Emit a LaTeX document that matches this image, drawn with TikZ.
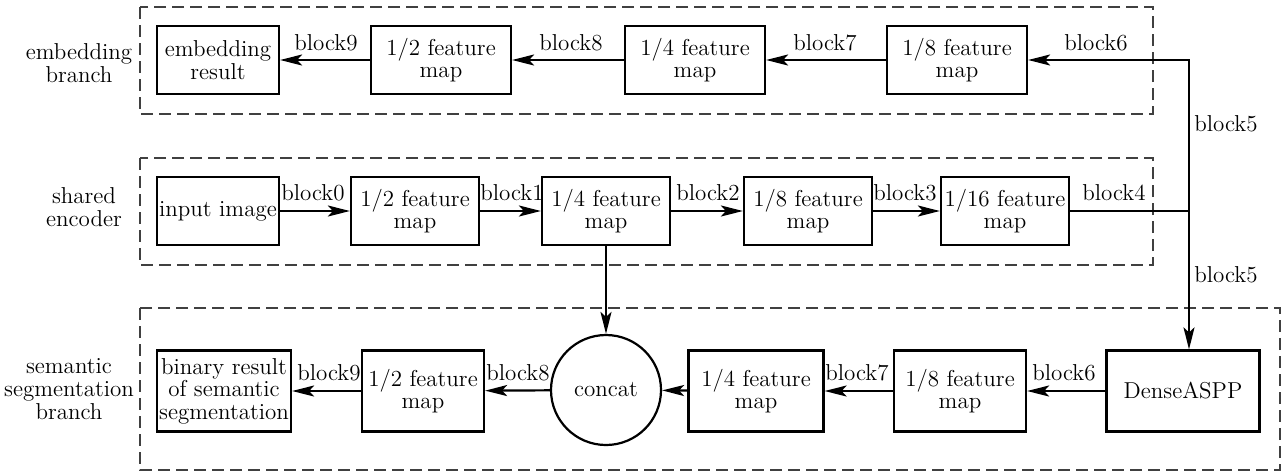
\documentclass[tikz,border=0pt]{standalone}
\usetikzlibrary{arrows.meta}
\begin{document}
\begin{tikzpicture}[x=0.5pt,y=-0.5pt,
  every node/.style={font=\fontsize{11.5pt}{11.3pt}\selectfont, align=center},
  box/.style={draw, line width=1.1pt, minimum height=34pt, inner sep=1pt},
  bbox/.style={draw, line width=1.1pt, minimum height=40.5pt, inner sep=1pt},
  grp/.style={draw=black!75, line width=0.75pt, dash pattern=on 6pt off 3pt},
  conn/.style={line width=1.1pt},
  arr/.style={line width=1.1pt, -{Stealth[length=11pt,width=5.5pt,inset=2.5pt]}},
  lab/.style={inner sep=1pt}]
\useasboundingbox (0,0) rectangle (1285,473);
% group frames
\draw[grp] (140,7) rectangle (1153,114);
\draw[grp] (140,158) rectangle (1153,265);
\draw[grp] (140,308) rectangle (1280,470);
% group labels
\node (gl1) at (79,63) {embedding\\branch};
\node (gl2) at (84,207) {shared\\encoder};
\node (gl3) at (69,389) {semantic\\segmentation\\branch};
% top row
\node[box, minimum width=61pt] (embres) at (218,60) {embedding\\result};
\node[box, minimum width=70pt] (t12) at (441,60) {1/2 feature\\map};
\node[box, minimum width=70pt] (t14) at (695,60) {1/4 feature\\map};
\node[box, minimum width=70pt] (t18) at (957,60) {1/8 feature\\map};
% middle row
\node[box, minimum width=61pt] (inp) at (218,211) {input image};
\node[box, minimum width=64pt] (m12) at (415,211) {1/2 feature\\map};
\node[box, minimum width=64pt] (m14) at (606,211) {1/4 feature\\map};
\node[box, minimum width=64pt] (m18) at (808,211) {1/8 feature\\map};
\node[box, minimum width=64pt] (m116) at (1005,211) {1/16 feature\\map};
% bottom row
\node[bbox, minimum width=67pt] (bin) at (224,391) {binary result\\of semantic\\segmentation};
\node[bbox, minimum width=61pt] (b12) at (423,391) {1/2 feature\\map};
\node[draw, line width=1.1pt, circle, minimum size=55pt, inner sep=0pt] (cat) at (606,390) {concat};
\node[bbox, minimum width=67.5pt] (b14) at (756,391) {1/4 feature\\map};
\node[bbox, minimum width=66pt] (b18) at (960,391) {1/8 feature\\map};
\node[bbox, minimum width=76.5pt] (dense) at (1183,391) {DenseASPP};
% junction
\coordinate (j) at (1189,211);
\coordinate (jt) at (1189,60);
% connectors top
\draw[arr] (t12) -- (embres);
\draw[arr] (t14) -- (t12);
\draw[arr] (t18) -- (t14);
\draw[arr] (j) -- (jt) -- (t18.east);
% connectors middle
\draw[arr] (inp) -- (m12);
\draw[arr] (m12) -- (m14);
\draw[arr] (m14) -- (m18);
\draw[arr] (m18) -- (m116);
\draw[conn] (m116.east) -- (j);
\draw[arr] (j) -- (j |- dense.north);
\draw[arr] (m14.south) -- (cat.north);
% connectors bottom
\draw[arr] (dense) -- (b18);
\draw[arr] (b18) -- (b14);
\draw[arr] (b14) -- (cat);
\draw[arr] (cat) -- (b12);
\draw[arr] (b12) -- (bin);
% block labels
\node[lab] (l9t) at (326,43) {block9};
\node[lab] (l8t) at (571,43) {block8};
\node[lab] (l7t) at (825,43) {block7};
\node[lab] (l6t) at (1096,43) {block6};
\node[lab] (l0) at (313,193) {block0};
\node[lab] (l1) at (512,193) {block1};
\node[lab] (l2) at (708,193) {block2};
\node[lab] (l3) at (905,193) {block3};
\node[lab] (l4) at (1114,193) {block4};
\node[lab] (l5a) at (1226,124) {block5};
\node[lab] (l5b) at (1226,275) {block5};
\node[lab] (l9b) at (329,373) {block9};
\node[lab] (l8b) at (518,373) {block8};
\node[lab] (l7b) at (857,373) {block7};
\node[lab] (l6b) at (1064,373) {block6};
\end{tikzpicture}
\end{document}
